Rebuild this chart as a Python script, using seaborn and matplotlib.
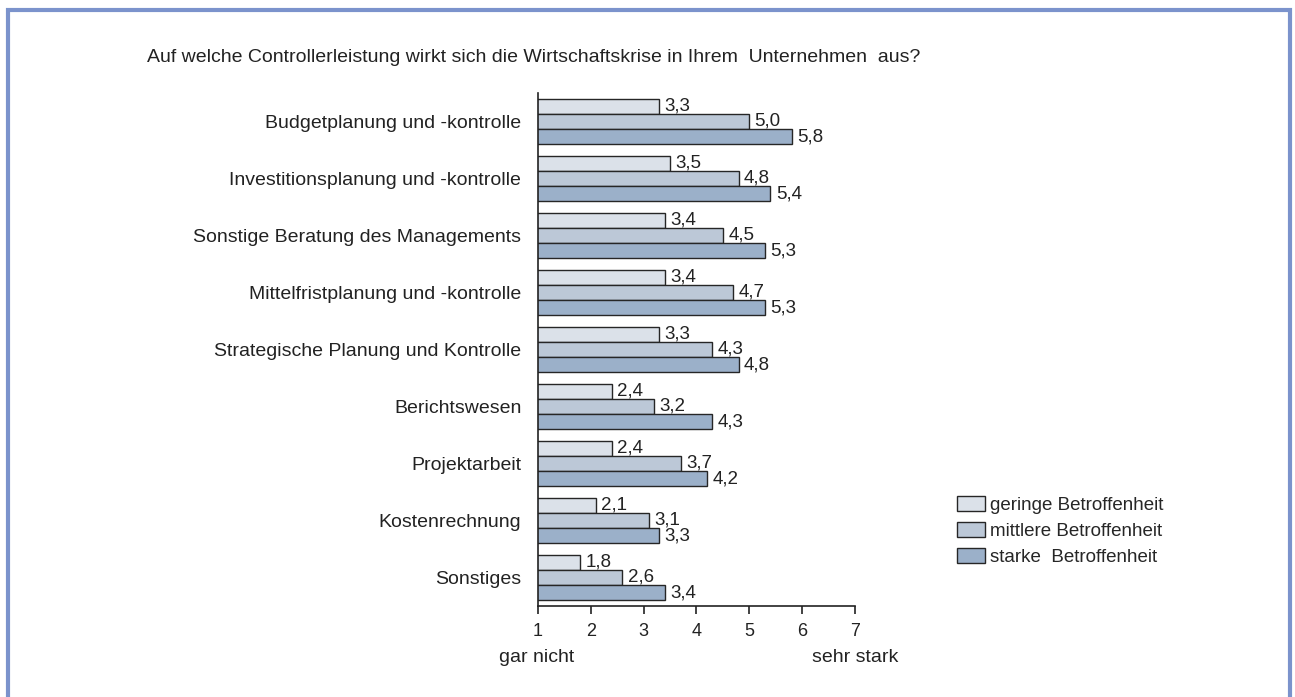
import pandas as pd
import seaborn as sns
import matplotlib.pyplot as plt
from matplotlib.patches import Rectangle

categories = ['Budgetplanung und -kontrolle', 'Investitionsplanung und -kontrolle',
              'Sonstige Beratung des Managements', 'Mittelfristplanung und -kontrolle',
              'Strategische Planung und Kontrolle', 'Berichtswesen', 'Projektarbeit',
              'Kostenrechnung', 'Sonstiges']
gering = [3.3, 3.5, 3.4, 3.4, 3.3, 2.4, 2.4, 2.1, 1.8]
mittel = [5.0, 4.8, 4.5, 4.7, 4.3, 3.2, 3.7, 3.1, 2.6]
stark = [5.8, 5.4, 5.3, 5.3, 4.8, 4.3, 4.2, 3.3, 3.4]
series = ['geringe Betroffenheit', 'mittlere Betroffenheit', 'starke  Betroffenheit']
colors = ['#D9E1EB', '#B8C8DB', '#94AFD0']

df = pd.DataFrame({'kat': categories * 3,
                   'gruppe': [series[0]] * 9 + [series[1]] * 9 + [series[2]] * 9,
                   'wert': gering + mittel + stark})

sns.set_style('white')
plt.rcParams['font.family'] = ['Liberation Sans', 'DejaVu Sans']
txt = '#222222'

fig = plt.figure(figsize=(12.95, 6.97), dpi=100)
ax = fig.add_axes([0.4154, 0.1306, 0.2448, 0.736])

# Skala 1..7, Balken werden an x=1 abgeschnitten
sns.barplot(data=df, y='kat', x='wert', hue='gruppe', orient='h', palette=colors,
            width=0.8, edgecolor='#262626', linewidth=1.0, ax=ax)

for cont in ax.containers:
    for bar in cont:
        w = bar.get_x() + bar.get_width()
        ax.text(w + 0.1, bar.get_y() + bar.get_height() / 2, f'{w:.1f}'.replace('.', ','),
                va='center', ha='left', fontsize=13.5, color=txt)

ax.set_xlim(1, 7)
ax.set_ylim(8.5, -0.5)
ax.set_xticks(range(1, 8))
ax.set_xlabel('')
ax.set_ylabel('')
sns.despine(ax=ax)
for s in ['left', 'bottom']:
    ax.spines[s].set_color('#222222')
    ax.spines[s].set_linewidth(1.2)
    ax.spines[s].set_zorder(5)
ax.tick_params(axis='x', direction='out', length=6, width=1.2, color='#222222',
               labelsize=13, labelcolor=txt, pad=6, bottom=True)
ax.tick_params(axis='y', length=0, labelsize=14, labelcolor=txt, pad=12)

ax.legend(loc='center left', bbox_to_anchor=(957 / 1295, 1 - 531 / 697),
          bbox_transform=fig.transFigure, frameon=False, borderpad=0, borderaxespad=0,
          fontsize=13.5, handlelength=1.5, handleheight=0.85, labelspacing=0.45,
          handletextpad=0.25)

fig.text(0.1135, 0.917, 'Auf welche Controllerleistung wirkt sich die Wirtschaftskrise in Ihrem  Unternehmen  aus?',
         fontsize=14, ha='left', va='center', color=txt)
fig.text(0.385, 0.057, 'gar nicht', fontsize=14, ha='left', va='center', color=txt)
fig.text(0.6934, 0.057, 'sehr stark', fontsize=14, ha='right', va='center', color=txt)

fig.patches.append(Rectangle((0.0065, -0.05), 0.9895, 1.036, transform=fig.transFigure,
                             fill=False, edgecolor='#7B93CC', linewidth=3))

fig.savefig('out.png', dpi=100)
